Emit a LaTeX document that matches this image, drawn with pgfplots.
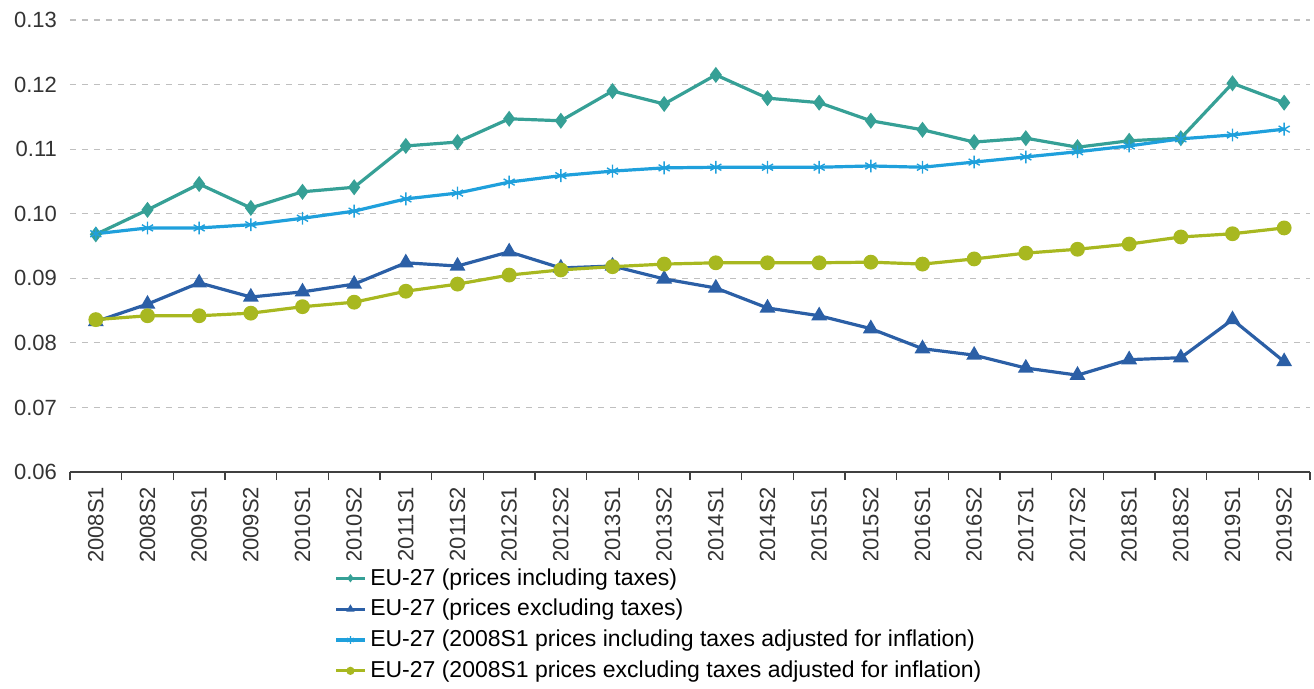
\documentclass[border=0pt]{standalone}
\usepackage{pgfplots}
\usepackage{pgfplotstable}
\pgfplotsset{compat=1.18}
\usepackage{fontspec}
\setmainfont{Liberation Sans}

\definecolor{incl}{HTML}{36A096}
\definecolor{excl}{HTML}{2B5FA6}
\definecolor{inclinf}{HTML}{1FA0DC}
\definecolor{exclinf}{HTML}{A8B820}

% semester index, prices incl./excl. taxes, 2008S1 prices adjusted for inflation
\pgfplotstableread{
x  incl    excl    inclinf exclinf
0  0.0968  0.0833  0.0969  0.0836
1  0.1006  0.0860  0.0978  0.0842
2  0.1046  0.0893  0.0978  0.0842
3  0.1009  0.0871  0.0983  0.0846
4  0.1034  0.0879  0.0993  0.0856
5  0.1041  0.0891  0.1004  0.0863
6  0.1105  0.0924  0.1023  0.0880
7  0.1111  0.0919  0.1032  0.0891
8  0.1147  0.0941  0.1049  0.0905
9  0.1144  0.0916  0.1059  0.0913
10 0.1190  0.0919  0.1066  0.0918
11 0.1170  0.0899  0.1071  0.0922
12 0.1215  0.0885  0.1072  0.0924
13 0.1179  0.0854  0.1072  0.0924
14 0.1172  0.0842  0.1072  0.0924
15 0.1144  0.0822  0.1074  0.0925
16 0.1130  0.0791  0.1072  0.0922
17 0.1111  0.0781  0.1080  0.0930
18 0.1117  0.0761  0.1088  0.0939
19 0.1103  0.0750  0.1096  0.0945
20 0.1113  0.0774  0.1105  0.0953
21 0.1117  0.0777  0.1116  0.0964
22 0.1202  0.0836  0.1122  0.0969
23 0.1172  0.0771  0.1131  0.0978
}\prices

\begin{document}
\begin{tikzpicture}
\begin{axis}[
    scale only axis,
    width=620pt, height=226pt,
    xmin=-0.5, xmax=23.5,
    ymin=0.06, ymax=0.13,
    ytick={0.06,0.07,...,0.13},
    xtick={0,...,23},
    xticklabels={2008S1,2008S2,2009S1,2009S2,2010S1,2010S2,2011S1,2011S2,
        2012S1,2012S2,2013S1,2013S2,2014S1,2014S2,2015S1,2015S2,
        2016S1,2016S2,2017S1,2017S2,2018S1,2018S2,2019S1,2019S2},
    minor xtick={-0.5,0.5,...,23.5},
    axis x line*=bottom,
    axis y line*=left,
    y axis line style={draw=none},
    x axis line style={black!75, line width=0.8pt},
    major tick length=0pt,
    minor tick length=4pt,
    tick align=outside,
    minor x tick style={black!75, line width=0.8pt},
    ymajorgrids,
    major grid style={black!25, dashed, line width=0.6pt},
    tick label style={font=\fontsize{11}{12}\selectfont, text=black!80},
    xticklabel style={rotate=90, anchor=east, xshift=-4pt},
    yticklabel style={xshift=-3pt},
    /pgf/number format/assume math mode=true,
    y tick label style={/pgf/number format/.cd, fixed, fixed zerofill, precision=2},
    every axis plot/.append style={line width=1.6pt},
    legend cell align=left,
    legend style={at={(0.5,0)}, anchor=north, yshift=-44pt, xshift=-15pt, draw=none,
        font=\fontsize{11.5}{12.5}\selectfont, row sep=1.6pt,
        /tikz/every even column/.append style={column sep=1pt}},
    legend image code/.code={\draw[mark repeat=2,mark phase=2,
        mark options={scale=0.6, line width=0.6pt}]
        plot coordinates {(0cm,0cm) (0.25cm,0cm) (0.5cm,0cm)};},
]
\addplot[incl, mark=diamond*, mark size=2.7pt] table[x=x, y=incl] {\prices};
\addplot[excl, mark=triangle*, mark size=3pt] table[x=x, y=excl] {\prices};
\addplot[inclinf, mark=asterisk, mark size=3.2pt, mark options={line width=0.7pt}] table[x=x, y=inclinf] {\prices};
\addplot[exclinf, mark=*, mark size=2.9pt] table[x=x, y=exclinf] {\prices};
\legend{EU-27 (prices including taxes),
        EU-27 (prices excluding taxes),
        EU-27 (2008S1 prices including taxes adjusted for inflation),
        EU-27 (2008S1 prices excluding taxes adjusted for inflation)}
\end{axis}
\path (-35pt,236pt) rectangle (622pt,-107pt);
\end{tikzpicture}
\end{document}
